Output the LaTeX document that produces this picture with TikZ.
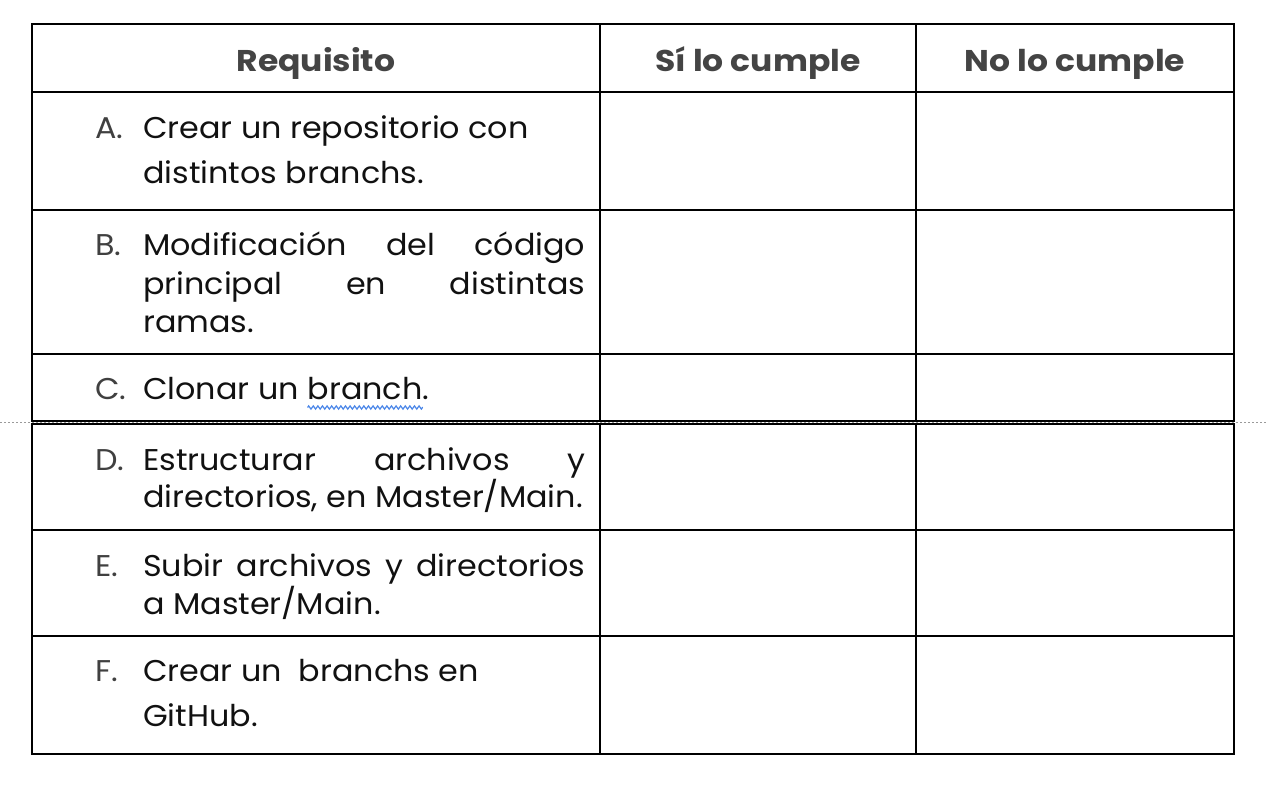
\documentclass[tikz,border=0pt]{standalone}
\usepackage{fontspec}
\setmainfont{Poppins}[FakeStretch=1.06]
\newfontfamily\headfont{Poppins}[FakeStretch=1.1]
\usetikzlibrary{decorations.pathmorphing}
\definecolor{lettergray}{HTML}{404040}
\definecolor{headgray}{HTML}{444444}
\definecolor{txt}{HTML}{111111}
\definecolor{spellblue}{HTML}{4A86E8}
\definecolor{breakgray}{HTML}{9A9A9A}
\tikzset{
  grid/.style={line width=2pt, black},
  lbl/.style={anchor=base west, inner sep=0pt, text=lettergray, font=\fontsize{30}{36}\selectfont},
  body/.style={anchor=base west, inner sep=0pt, text=txt, font=\fontsize{30}{36}\selectfont},
  head/.style={anchor=base, inner sep=0pt, text=headgray, font=\headfont\fontsize{30}{36}\selectfont\bfseries},
}
\begin{document}
\begin{tikzpicture}[x=1pt,y=-1pt]
\useasboundingbox (0,0) rectangle (1268,792);
% page-break dotted line
\draw[breakgray, line width=1.6pt, dash pattern=on 2pt off 2pt] (0,422.5) -- (1268,422.5);
% grid
\draw[grid] (32,24) rectangle (1234,421);
\draw[grid] (32,424) rectangle (1234,754);
\foreach \y in {92,210,354,530,636} \draw[grid] (32,\y) -- (1234,\y);
\foreach \x in {600,916} {\draw[grid] (\x,24) -- (\x,421); \draw[grid] (\x,424) -- (\x,754);}
% header
\node[head] (h1) at (316,71) {Requisito};
\node[head] (h2) at (758,71) {Sí lo cumple};
\node[head] (h3) at (1075,71) {No lo cumple};
% A
\node[lbl] (la) at (95,138) {A.};
\node[body] (a1) at (143,138) {Crear un repositorio con};
\node[body] (a2) at (143,183) {distintos branchs.};
% B
\node[lbl] (lb) at (95,255) {B.};
\node[body] (b1) at (143,255) {\makebox[442pt][l]{Modificación\hfill del\hfill código}};
\node[body] (b2) at (143,294) {\makebox[442pt][l]{principal\hfill en\hfill distintas}};
\node[body] (b3) at (143,332) {ramas.};
% C
\node[lbl] (lc) at (95,399) {C.};
\node[body] (c1) at (143,399) {Clonar un\ \mbox{}};
\node[body, anchor=base west] (c2) at (c1.base east) {branch};
\node[body, anchor=base west] (c3) at (c2.base east) {.};
\coordinate (w1) at ([yshift=-8.5pt]c2.base west);
\coordinate (w2) at ([yshift=-8.5pt]c2.base east);
\draw[spellblue, line width=1.2pt, decorate, decoration={zigzag, amplitude=1.6pt, segment length=4.6pt}] (w1) -- (w2);
% D
\node[lbl] (ld) at (95,470) {D.};
\node[body] (d1) at (143,470) {\makebox[442pt][l]{Estructurar\hfill archivos\hfill y}};
\node[body] (d2) at (143,507) {directorios, en Master/Main.};
% E
\node[lbl] (le) at (95,576) {E.};
\node[body] (e1) at (143,576) {\makebox[442pt][l]{Subir\hfill archivos\hfill y\hfill directorios}};
\node[body] (e2) at (143,614) {a Master/Main.};
% F
\node[lbl] (lf) at (95,681) {F.};
\node[body] (f1) at (143,681) {Crear un\ \ branchs en};
\node[body] (f2) at (143,726) {GitHub.};
\end{tikzpicture}
\end{document}
